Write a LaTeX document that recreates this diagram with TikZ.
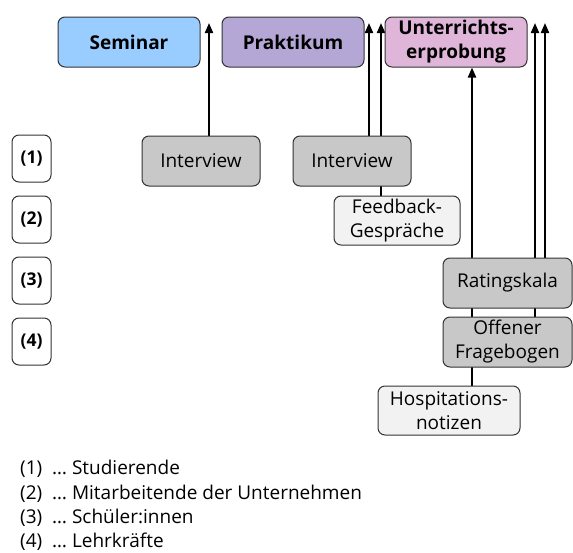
\documentclass[tikz,border=0pt]{standalone}
\usepackage{fontspec}
\setmainfont{Open Sans}
\usetikzlibrary{arrows.meta,backgrounds}
\definecolor{semc}{HTML}{99CCFF}
\definecolor{prakc}{HTML}{B4A7D6}
\definecolor{untc}{HTML}{E0B5DA}
\definecolor{grayc}{HTML}{C8C8C8}
\definecolor{lightc}{HTML}{F2F2F2}
\definecolor{edgec}{HTML}{333333}
\tikzset{
  base/.style={draw=edgec, line width=1pt, rounded corners=7pt, align=center, inner sep=0pt,
    font=\fontsize{19}{24}\selectfont},
  topbox/.style={base, minimum width=142pt, minimum height=50pt, font=\fontsize{19}{24}\selectfont\bfseries},
  methbox/.style={base, fill=grayc},
  lightbox/.style={base, fill=lightc},
  numbox/.style={base, fill=white, minimum width=39pt, minimum height=47pt, font=\fontsize{17.5}{20}\selectfont\bfseries},
  arr/.style={line width=2pt, -{Triangle[length=10pt,width=8pt]}},
  legend/.style={anchor=west, inner sep=0pt, font=\fontsize{19}{24}\selectfont}
}
\begin{document}
\begin{tikzpicture}[x=1pt,y=-1pt]
\useasboundingbox (0,0) rectangle (573,552);
% top boxes
\node[topbox, fill=semc] (sem) at (129,42) {Seminar};
\node[topbox, fill=prakc] (prak) at (293,42) {Praktikum};
\node[topbox, fill=untc] (unt) at (456,42) {Unterrichts-\\erprobung};
% methods
\node[methbox, minimum width=118pt, minimum height=50pt] (int1) at (201,161) {Interview};
\node[methbox, minimum width=118pt, minimum height=50pt] (int2) at (352,161) {Interview};
\node[lightbox, minimum width=126pt, minimum height=49pt] (fb) at (397,220.5) {Feedback-\\Gespräche};
\node[methbox, minimum width=129pt, minimum height=50pt] (rat) at (507.5,283) {Ratingskala};
\node[methbox, minimum width=129pt, minimum height=50pt] (off) at (507.5,342) {Offener\\Fragebogen};
\node[lightbox, minimum width=142pt, minimum height=49pt] (hosp) at (449,410.5) {Hospitations-\\notizen};
% numbered boxes
\node[numbox] (n1) at (31.5,158.5) {(1)};
\node[numbox] (n2) at (31.5,219.5) {(2)};
\node[numbox] (n3) at (31.5,280.5) {(3)};
\node[numbox] (n4) at (31.5,341.5) {(4)};
% arrow tips
\coordinate (t1) at (209,23);
\coordinate (t2) at (369,23);
\coordinate (t3) at (381,23);
\coordinate (t4) at (535,23);
\coordinate (t5) at (545,23);
\coordinate (t6) at (472,67);
\begin{scope}[on background layer]
\draw[arr] (int1.north -| t1) -- (t1);
\draw[arr] (int2.north -| t2) -- (t2);
\draw[arr] (fb.north -| t3) -- (t3);
\draw[arr] (off.north -| t4) -- (t4);
\draw[arr] (rat.north -| t5) -- (t5);
\draw[arr] (hosp.north -| t6) -- (unt.south -| t6);
\end{scope}
% legend
\node[legend] (l1) at (20,469) {\makebox[32pt][l]{(1)}… Studierende};
\node[legend] (l2) at (20,494) {\makebox[32pt][l]{(2)}… Mitarbeitende der Unternehmen};
\node[legend] (l3) at (20,518) {\makebox[32pt][l]{(3)}… Schüler:innen};
\node[legend] (l4) at (20,542) {\makebox[32pt][l]{(4)}… Lehrkräfte};
\end{tikzpicture}
\end{document}
